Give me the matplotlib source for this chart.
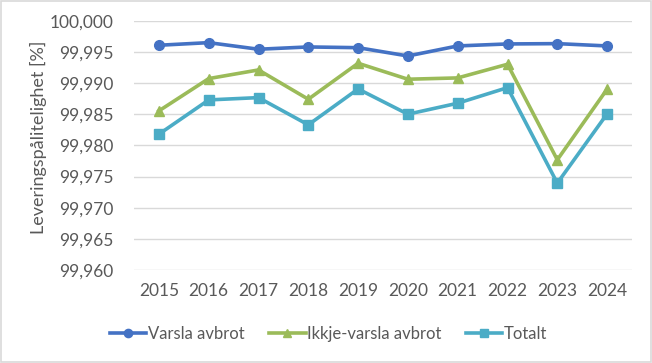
import matplotlib.pyplot as plt
from matplotlib.ticker import FuncFormatter, MultipleLocator
from matplotlib.patches import Rectangle

years = [2015, 2016, 2017, 2018, 2019, 2020, 2021, 2022, 2023, 2024]
varsla = [99.99606, 99.99648, 99.99542, 99.99579, 99.99567,
          99.99434, 99.99595, 99.99627, 99.99632, 99.99595]
ikkje_varsla = [99.98553, 99.99071, 99.99210, 99.98740, 99.99317,
                99.99061, 99.99082, 99.99301, 99.97768, 99.98901]
totalt = [99.98179, 99.98729, 99.98766, 99.98329, 99.98905,
          99.98500, 99.98676, 99.98926, 99.97394, 99.98505]

plt.rcParams['font.family'] = ['Lato', 'DejaVu Sans']
txt = '#595959'
fs = 12.5

fig = plt.figure(figsize=(6.52, 3.63), dpi=100)
ax = fig.add_axes([134 / 652, 1 - 270 / 363, 498 / 652, (270 - 20.7) / 363])

x = range(len(years))
ax.plot(x, varsla, color='#4472C4', lw=2.6, marker='o', ms=7, label='Varsla avbrot')
ax.plot(x, ikkje_varsla, color='#9BBB59', lw=2.6, marker='^', ms=7, label='Ikkje-varsla avbrot')
ax.plot(x, totalt, color='#4BACC6', lw=2.6, marker='s', ms=6.5, label='Totalt')

ax.set_xlim(-0.5, len(years) - 0.5)
ax.set_ylim(99.960, 100.000)
ax.yaxis.set_major_locator(MultipleLocator(0.005))
ax.yaxis.set_major_formatter(FuncFormatter(lambda v, p: f'{v:.3f}'.replace('.', ',')))
ax.set_xticks(list(x))
ax.set_xticklabels([str(y) for y in years])

ax.grid(axis='y', color='#D9D9D9', lw=1)
ax.set_axisbelow(True)
for s in ax.spines.values():
    s.set_visible(False)
ax.tick_params(length=0, labelsize=fs, colors=txt)
ax.tick_params(axis='y', pad=15)
ax.tick_params(axis='x', pad=9)

# y label placed a bit above the axes centre, like the original
fig.text(38 / 652, 1 - 137 / 363, 'Leveringspålitelighet [%]', rotation=90,
         ha='center', va='center', fontsize=fs + 0.5, color=txt)

fig.legend(loc='center', bbox_to_anchor=(0.504, 1 - 334 / 363), ncol=3, frameon=False,
           fontsize=12, labelcolor=txt, handlelength=2.2, handletextpad=0.1,
           columnspacing=1.45, markerscale=0.85)

fig.patches.append(Rectangle((0.002, 0.003), 0.996, 0.994, transform=fig.transFigure,
                             fill=False, edgecolor='#D9D9D9', lw=1.2))

fig.savefig('out.png', dpi=100)
